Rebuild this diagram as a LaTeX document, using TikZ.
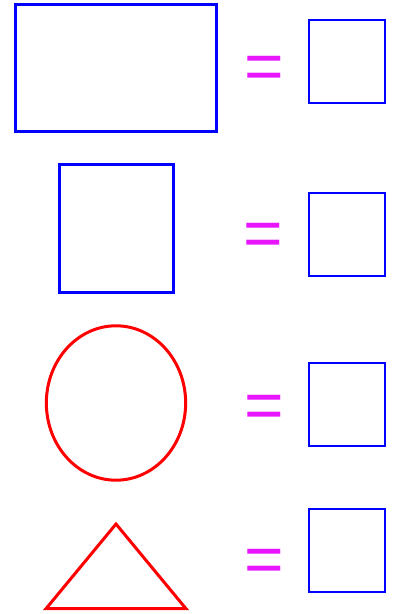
\documentclass[tikz,border=0pt]{standalone}
\usepackage{fontspec}
\setsansfont{Liberation Sans}
\usetikzlibrary{shapes.geometric}
\definecolor{eqmag}{RGB}{232,22,255}
\begin{document}
\begin{tikzpicture}[x=1bp, y=-1bp,
  bigshape/.style={draw, line width=3bp, inner sep=0pt, outer sep=0pt},
  blueshape/.style={bigshape, draw=blue, rectangle},
  redshape/.style={bigshape, draw=red, line join=miter},
  unitsq/.style={rectangle, draw=blue, line width=2bp, minimum width=75.7bp,
    minimum height=83bp, inner sep=0pt, outer sep=0pt},
  eqsign/.style={text=eqmag, font=\fontsize{68}{68}\selectfont\sffamily,
    inner sep=0pt},
]
\useasboundingbox (0,0) rectangle (392,614);

% Column positions
\def\lcol{116}
\def\eqcol{264.5}
\def\rcol{347.2}
\def\eqdrop{5}

% Row 1: rectangle
\node[blueshape, minimum width=200bp, minimum height=127bp] (rect) at (\lcol, 68.3) {};
\node[eqsign] (eq1) at (\eqcol, 67.5+\eqdrop) {=};
\node[unitsq] (sq1) at (\rcol, 61.5) {};

% Row 2: square
\node[blueshape, minimum width=114bp, minimum height=127.7bp] (square) at (\lcol, 228.6) {};
\node[eqsign] (eq2) at (263, 234.6+\eqdrop) {=};
\node[unitsq] (sq2) at (\rcol, 234.7) {};

% Row 3: ellipse
\node[redshape, ellipse, minimum width=139.3bp, minimum height=154.4bp] (oval) at (\lcol, 403) {};
\node[eqsign] (eq3) at (\eqcol, 407+\eqdrop) {=};
\node[unitsq] (sq3) at (\rcol, 404.7) {};

% Row 4: triangle
\coordinate (tri-top) at (\lcol, 524);
\coordinate (tri-left) at (46, 608.7);
\coordinate (tri-right) at (186, 608.7);
\draw[redshape] (tri-top) -- (tri-left) -- (tri-right) -- cycle;
\node[eqsign] (eq4) at (\eqcol, 560.5+\eqdrop) {=};
\node[unitsq] (sq4) at (\rcol, 550.7) {};

\end{tikzpicture}
\end{document}
